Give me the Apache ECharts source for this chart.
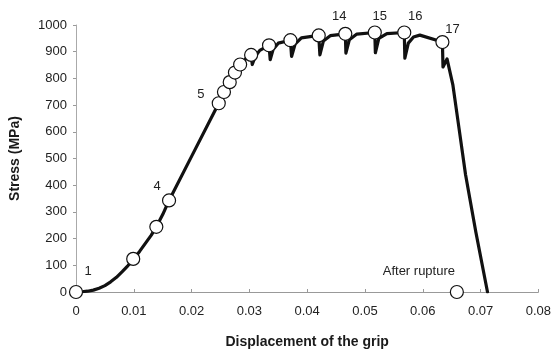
<!DOCTYPE html>
<html>
<head>
<meta charset="utf-8">
<script src="https://cdn.jsdelivr.net/npm/echarts@6/dist/echarts.min.js"></script>
<style>
  html, body { margin: 0; padding: 0; background: #fff; }
  #chart { width: 554px; height: 354px; }
</style>
</head>
<body>
<div id="chart"></div>
<script>
// stress-displacement curve
const curveX = [
  0, 0.001, 0.002, 0.003, 0.004, 0.005, 0.006, 0.007, 0.008, 0.009,
  0.010, 0.011, 0.012, 0.013, 0.0139, 0.015, 0.0161, 0.0200, 0.0247, 0.0256,
  0.0266, 0.0275, 0.0284, 0.0294, 0.0303, 0.0305, 0.0310, 0.0318, 0.0334, 0.0336,
  0.0341, 0.0350, 0.0371, 0.0373, 0.0379, 0.0390, 0.0420, 0.0422, 0.0428, 0.0440,
  0.0466, 0.0467, 0.0473, 0.0486, 0.0517, 0.0518, 0.0524, 0.0538, 0.0568, 0.0569,
  0.0575, 0.0584, 0.0595, 0.0634, 0.0635, 0.0642, 0.0645, 0.0652, 0.0663, 0.0674,
  0.0692, 0.0712
];
const curveStress = [
  0, 1, 3, 7, 14, 24, 38, 55, 76, 99,
  124, 152, 182, 212, 244, 290, 343, 508, 707, 749,
  786, 822, 852, 874, 888, 852, 882, 905, 924, 870,
  908, 932, 943, 882, 928, 952, 961, 888, 940, 960,
  967, 895, 945, 966, 972, 896, 950, 968, 972, 876,
  932, 955, 962, 936, 843, 873, 867, 777, 609, 440,
  223, 0
];

// circled measurement points
const pointX = [
  0, 0.0099, 0.0139, 0.0161, 0.0247, 0.0256, 0.0266, 0.0275, 0.0284,
  0.0303, 0.0334, 0.0371, 0.0420, 0.0466, 0.0517, 0.0568, 0.0634, 0.0659
];
const pointStress = [
  0, 124, 244, 343, 707, 749, 786, 822, 852,
  888, 924, 943, 961, 967, 972, 972, 936, 0
];
const pointTags = [
  '1', '', '', '4', '5', '', '', '', '',
  '', '', '', '', '14', '15', '16', '17', 'After rupture'
];
// label offsets (px) for the tagged points
const tagOffsets = {
  '1': [12, -21], '4': [-12, -14], '5': [-18, -9],
  '14': [-6, -17], '15': [5, -16], '16': [11, -16], '17': [10, -13],
  'After rupture': [-38, -21]
};

const xTicks = [0, 0.01, 0.02, 0.03, 0.04, 0.05, 0.06, 0.07, 0.08];
const yTicks = [0, 100, 200, 300, 400, 500, 600, 700, 800, 900, 1000];

const font = 'Liberation Sans, Arial, sans-serif';

const chart = echarts.init(document.getElementById('chart'), null, { renderer: 'canvas' });

chart.setOption({
  animation: false,
  backgroundColor: '#fff',
  grid: { left: 71, right: 14, top: 25, bottom: 52, containLabel: false },
  xAxis: {
    type: 'value',
    min: xTicks[0],
    max: xTicks[xTicks.length - 1],
    interval: 0.01,
    name: 'Displacement of the grip',
    nameLocation: 'middle',
    nameGap: 43,
    nameTextStyle: { fontFamily: font, fontSize: 14, fontWeight: 'bold', color: '#1a1a1a' },
    axisLine: { lineStyle: { color: '#999', width: 1 } },
    axisTick: { inside: true, length: 3, lineStyle: { color: '#999' } },
    axisLabel: {
      margin: 13, fontFamily: font, fontSize: 13, color: '#222',
      formatter: v => String(+v.toFixed(2))
    },
    splitLine: { show: false }
  },
  yAxis: {
    type: 'value',
    min: yTicks[0],
    max: yTicks[yTicks.length - 1],
    interval: 100,
    name: 'Stress (MPa)',
    nameLocation: 'middle',
    nameGap: 54,
    nameTextStyle: { fontFamily: font, fontSize: 14, fontWeight: 'bold', color: '#1a1a1a' },
    axisLine: { show: true, lineStyle: { color: '#aaa', width: 1 } },
    axisTick: { show: true, inside: false, length: 3, lineStyle: { color: '#999' } },
    axisLabel: { margin: 9, fontFamily: font, fontSize: 13, color: '#222', formatter: v => String(v) },
    splitLine: { show: false }
  },
  series: [
    {
      type: 'line',
      data: curveX.map((x, i) => [x, curveStress[i]]),
      symbol: 'none',
      smooth: false,
      lineStyle: { color: '#111', width: 3.2, join: 'round', cap: 'round' },
      z: 2
    },
    {
      type: 'scatter',
      data: pointX.map((x, i) => {
        const tag = pointTags[i];
        const item = { value: [x, pointStress[i]] };
        if (tag) {
          item.label = {
            show: true,
            formatter: tag,
            position: 'inside',
            offset: tagOffsets[tag],
            fontFamily: font,
            fontSize: 13,
            color: '#222'
          };
        }
        return item;
      }),
      symbol: 'circle',
      symbolSize: 13,
      itemStyle: { color: '#fff', borderColor: '#111', borderWidth: 1.2, opacity: 1 },
      emphasis: { disabled: true },
      label: { show: false },
      z: 3
    }
  ]
});
</script>
</body>
</html>
